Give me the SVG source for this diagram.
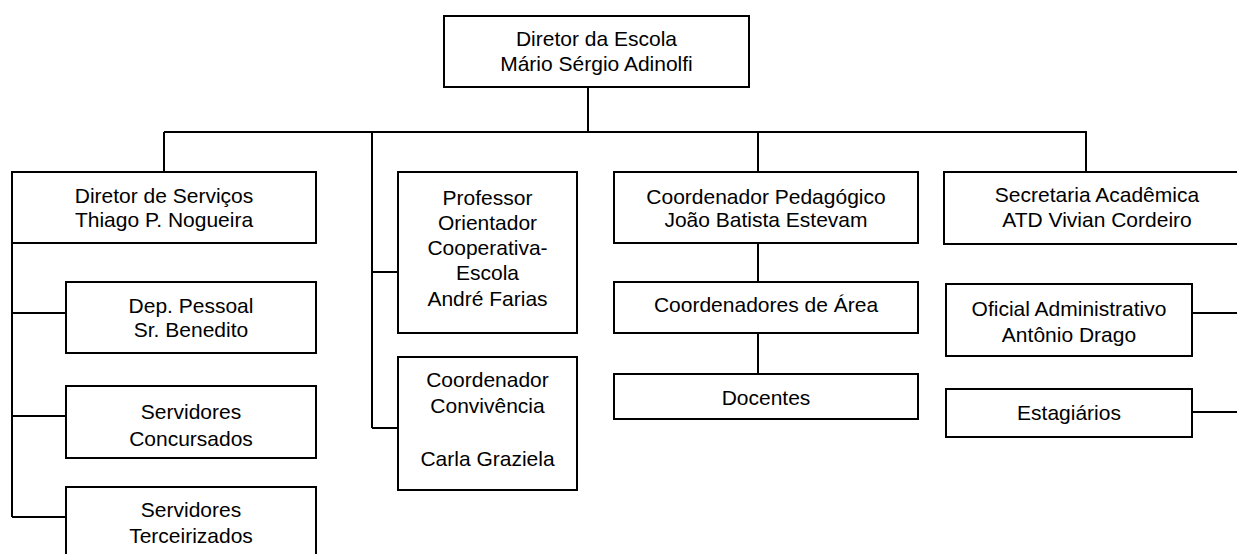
<svg xmlns="http://www.w3.org/2000/svg" width="1237" height="554" viewBox="0 0 1237 554">
<style>
.box{fill:#fff;stroke:#000;stroke-width:2}
.ln{fill:none;stroke:#000;stroke-width:2}
text{font-family:"Liberation Sans",Arial,sans-serif;font-size:21px;fill:#000;text-anchor:middle}
</style>
<rect width="1237" height="554" fill="#fff"/>
<g id="connectors" class="ln">
<path d="M588 87V132M164 132H1087M164 132V172M372 132V428M758 132V172M1086 132V172"/>
<path d="M12 243V517M12 313H66M12 416H66M12 517H66"/>
<path d="M372 272H398M372 428H398"/>
<path d="M758 243V282M758 333V374"/>
<path d="M1192 313H1237M1192 412H1237"/>
</g>
<g id="diretor-escola"><rect class="box" x="444" y="16" width="305" height="71"/><text x="596.5" y="46">Diretor da Escola</text><text x="596.5" y="71">Mário Sérgio Adinolfi</text></g>
<g id="diretor-servicos"><rect class="box" x="12" y="172" width="304" height="71"/><text x="164" y="203">Diretor de Serviços</text><text x="164" y="227">Thiago P. Nogueira</text></g>
<g id="dep-pessoal"><rect class="box" x="66" y="282" width="250" height="71"/><text x="191" y="313">Dep. Pessoal</text><text x="191" y="337">Sr. Benedito</text></g>
<g id="servidores-concursados"><rect class="box" x="66" y="386" width="250" height="72"/><text x="191" y="419">Servidores</text><text x="191" y="446">Concursados</text></g>
<g id="servidores-terceirizados"><rect class="box" x="66" y="487" width="250" height="80"/><text x="191" y="517">Servidores</text><text x="191" y="543">Terceirizados</text></g>
<g id="professor-orientador"><rect class="box" x="398" y="172" width="179" height="161"/><text x="487.5" y="205">Professor</text><text x="487.5" y="230">Orientador</text><text x="487.5" y="255">Cooperativa-</text><text x="487.5" y="280">Escola</text><text x="487.5" y="306">André Farias</text></g>
<g id="coordenador-convivencia"><rect class="box" x="398" y="357" width="179" height="133"/><text x="487.5" y="387">Coordenador</text><text x="487.5" y="413">Convivência</text><text x="487.5" y="466">Carla Graziela</text></g>
<g id="coordenador-pedagogico"><rect class="box" x="614" y="172" width="304" height="71"/><text x="766" y="204">Coordenador Pedagógico</text><text x="766" y="227">João Batista Estevam</text></g>
<g id="coordenadores-area"><rect class="box" x="614" y="282" width="304" height="51"/><text x="766" y="312">Coordenadores de Área</text></g>
<g id="docentes"><rect class="box" x="614" y="374" width="304" height="45"/><text x="766" y="405">Docentes</text></g>
<g id="secretaria-academica"><rect class="box" x="944" y="172" width="310" height="72"/><text x="1097" y="202">Secretaria Acadêmica</text><text x="1097" y="227">ATD Vivian Cordeiro</text></g>
<g id="oficial-administrativo"><rect class="box" x="946" y="284" width="246" height="72"/><text x="1069" y="316">Oficial Administrativo</text><text x="1069" y="342">Antônio Drago</text></g>
<g id="estagiarios"><rect class="box" x="946" y="389" width="246" height="48"/><text x="1069" y="420">Estagiários</text></g>
</svg>
